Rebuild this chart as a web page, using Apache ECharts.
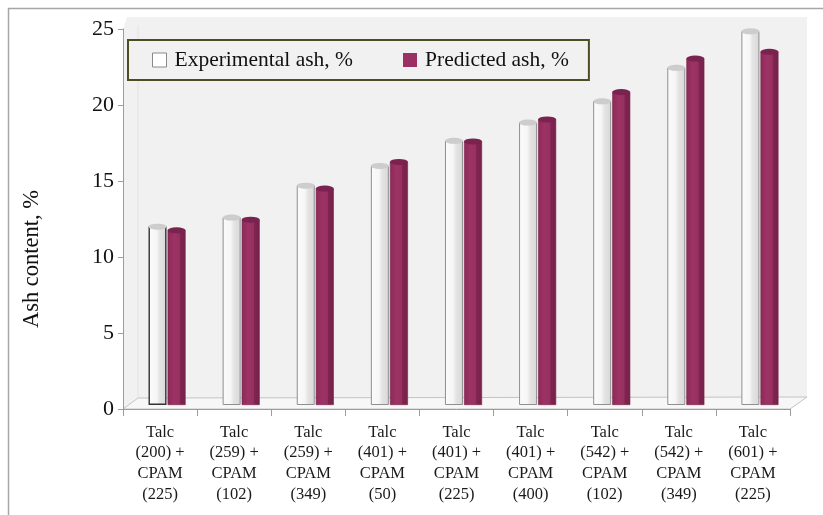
<!DOCTYPE html>
<html>
<head>
<meta charset="utf-8">
<script src="https://cdn.jsdelivr.net/npm/echarts@6/dist/echarts.min.js"></script>
<style>
  html, body { margin: 0; padding: 0; background: #ffffff; }
  #chart { width: 823px; height: 515px; }
</style>
</head>
<body>
<div id="chart"></div>
<script>
// Ash content of talc + CPAM combinations: measured vs. model
const categories = [
  'Talc\n(200) +\nCPAM\n(225)',
  'Talc\n(259) +\nCPAM\n(102)',
  'Talc\n(259) +\nCPAM\n(349)',
  'Talc\n(401) +\nCPAM\n(50)',
  'Talc\n(401) +\nCPAM\n(225)',
  'Talc\n(401) +\nCPAM\n(400)',
  'Talc\n(542) +\nCPAM\n(102)',
  'Talc\n(542) +\nCPAM\n(349)',
  'Talc\n(601) +\nCPAM\n(225)'
];
const experimental = [11.75, 12.35, 14.45, 15.75, 17.4, 18.6, 20.0, 22.2, 24.6];
const predicted    = [11.5, 12.2, 14.25, 16.0, 17.35, 18.8, 20.6, 22.8, 23.25];
const seriesNames = ['Experimental ash, %', 'Predicted ash, %'];
const yTitle = 'Ash content, %';
const yMin = 0, yMax = 25, yStep = 5;

const W = 823, H = 515;
const FONT = '"Liberation Serif", "Times New Roman", serif';

// front (axis) plane
const axL = 123, axR = 790, axT = 29, axB = 409;
// plane in which the columns stand (half depth back)
const dx = 7, dy = 4;
// back wall
const wallL = 135, wallR = 807, wallT = 17, wallB = 397;

const chart = echarts.init(document.getElementById('chart'), null, { renderer: 'canvas' });

const expFill = new echarts.graphic.LinearGradient(0, 0, 1, 0, [
  { offset: 0, color: '#fbfbfb' },
  { offset: 0.45, color: '#f6f6f6' },
  { offset: 0.62, color: '#e4e4e4' },
  { offset: 1, color: '#d8d8d8' }
]);
const predFill = new echarts.graphic.LinearGradient(0, 0, 1, 0, [
  { offset: 0, color: '#8d2957' },
  { offset: 0.35, color: '#9c3365' },
  { offset: 0.66, color: '#98305f' },
  { offset: 0.70, color: '#7e2550' },
  { offset: 1, color: '#76214a' }
]);

const expData = experimental.map((v, i) => i === 0
  ? { value: v, itemStyle: { borderColor: '#333333', borderWidth: 1.4 } }
  : v);

chart.setOption({
  animation: false,
  backgroundColor: '#ffffff',
  textStyle: { fontFamily: FONT },
  graphic: [
    { type: 'rect', z: -5, silent: true,
      shape: { x: 8.5, y: 8.5, width: W, height: H },
      style: { fill: 'none', stroke: '#a6a6a6', lineWidth: 1.5 } },
    { type: 'polygon', z: -4, silent: true,
      shape: { points: [[axL, axT], [wallL - 8, wallT], [wallR, wallT], [wallR, wallB], [axR, axB], [axL, axB]] },
      style: { fill: '#f1f1f1', stroke: 'none' } },
    { type: 'polygon', z: -3, silent: true,
      shape: { points: [[axL, axB], [wallL + 3, wallB + 1], [wallR, wallB], [axR, axB]] },
      style: { fill: '#f7f7f7', stroke: '#c4c4c4', lineWidth: 1 } },
    { type: 'polyline', z: -3, silent: true,
      shape: { points: [[wallL + 3, wallB + 1], [wallL + 3, axT - 4]] },
      style: { stroke: '#e2e2e2', lineWidth: 1 } },
    // value-axis title
    { type: 'text', z: 5, silent: true,
      x: 32, y: 259, rotation: Math.PI / 2,
      style: { text: yTitle, fontFamily: FONT, fontSize: 22.5, fill: '#111111',
               align: 'center', verticalAlign: 'middle' } }
  ],
  legend: {
    left: 128, top: 40,
    orient: 'horizontal',
    padding: [9, 20, 9, 24],
    itemWidth: 14, itemHeight: 14,
    itemGap: 50,
    borderColor: '#4d4d22', borderWidth: 2,
    backgroundColor: '#f1f1f1',
    textStyle: { fontFamily: FONT, fontSize: 21.5, color: '#111111', padding: [0, 0, 0, 3] },
    data: [
      { name: seriesNames[0], icon: 'rect', itemStyle: { color: '#ffffff', borderColor: '#8a8a8a', borderWidth: 1 } },
      { name: seriesNames[1], icon: 'rect', itemStyle: { color: '#9b3064', borderWidth: 0 } }
    ]
  },
  grid: [
    { left: axL, right: W - axR, top: axT, bottom: H - axB },
    { left: axL + dx, right: W - axR - dx, top: axT - dy, bottom: H - axB + dy }
  ],
  xAxis: [
    {
      type: 'category', gridIndex: 0, data: categories,
      axisLine: { lineStyle: { color: '#9c9c9c', width: 1 } },
      axisTick: { show: true, length: 7, lineStyle: { color: '#9c9c9c' } },
      axisLabel: { interval: 0, margin: 13, fontFamily: FONT, fontSize: 16.5, lineHeight: 20.7, color: '#1a1a1a' },
      splitLine: { show: false }
    },
    {
      type: 'category', gridIndex: 1, data: categories, show: false
    }
  ],
  yAxis: [
    {
      type: 'value', gridIndex: 0, min: yMin, max: yMax, interval: yStep,
      axisLine: { show: true, lineStyle: { color: '#9c9c9c', width: 1 } },
      axisTick: { show: true, length: 5, lineStyle: { color: '#9c9c9c' } },
      axisLabel: { margin: 9, fontFamily: FONT, fontSize: 22, color: '#111111' },
      splitLine: { show: false }
    },
    {
      type: 'value', gridIndex: 1, min: yMin, max: yMax, interval: yStep, show: false,
      splitLine: { show: false }
    }
  ],
  series: [
    {
      name: seriesNames[0], type: 'bar', xAxisIndex: 1, yAxisIndex: 1,
      data: expData, barWidth: 18, barGap: '6%',
      itemStyle: { color: expFill, borderColor: '#8f8f8f', borderWidth: 1 }
    },
    {
      name: seriesNames[1], type: 'bar', xAxisIndex: 1, yAxisIndex: 1,
      data: predicted, barWidth: 18, barGap: '6%',
      itemStyle: { color: predFill, borderColor: '#7a2149', borderWidth: 0.6 }
    },
    {
      name: seriesNames[0], type: 'pictorialBar', xAxisIndex: 1, yAxisIndex: 1,
      data: experimental, symbol: 'circle', symbolSize: [18, 6],
      symbolPosition: 'end', symbolOffset: [-9.5, -3], z: 3,
      itemStyle: { color: '#cdcdcd', borderColor: '#8a8a8a', borderWidth: 1 },
      legendHoverLink: false
    },
    {
      name: seriesNames[1], type: 'pictorialBar', xAxisIndex: 1, yAxisIndex: 1,
      data: predicted, symbol: 'circle', symbolSize: [18, 6],
      symbolPosition: 'end', symbolOffset: [9.5, -3], z: 3,
      itemStyle: { color: '#7b2350', borderColor: '#6e1d45', borderWidth: 0.6 },
      legendHoverLink: false
    }
  ]
});
</script>
</body>
</html>
